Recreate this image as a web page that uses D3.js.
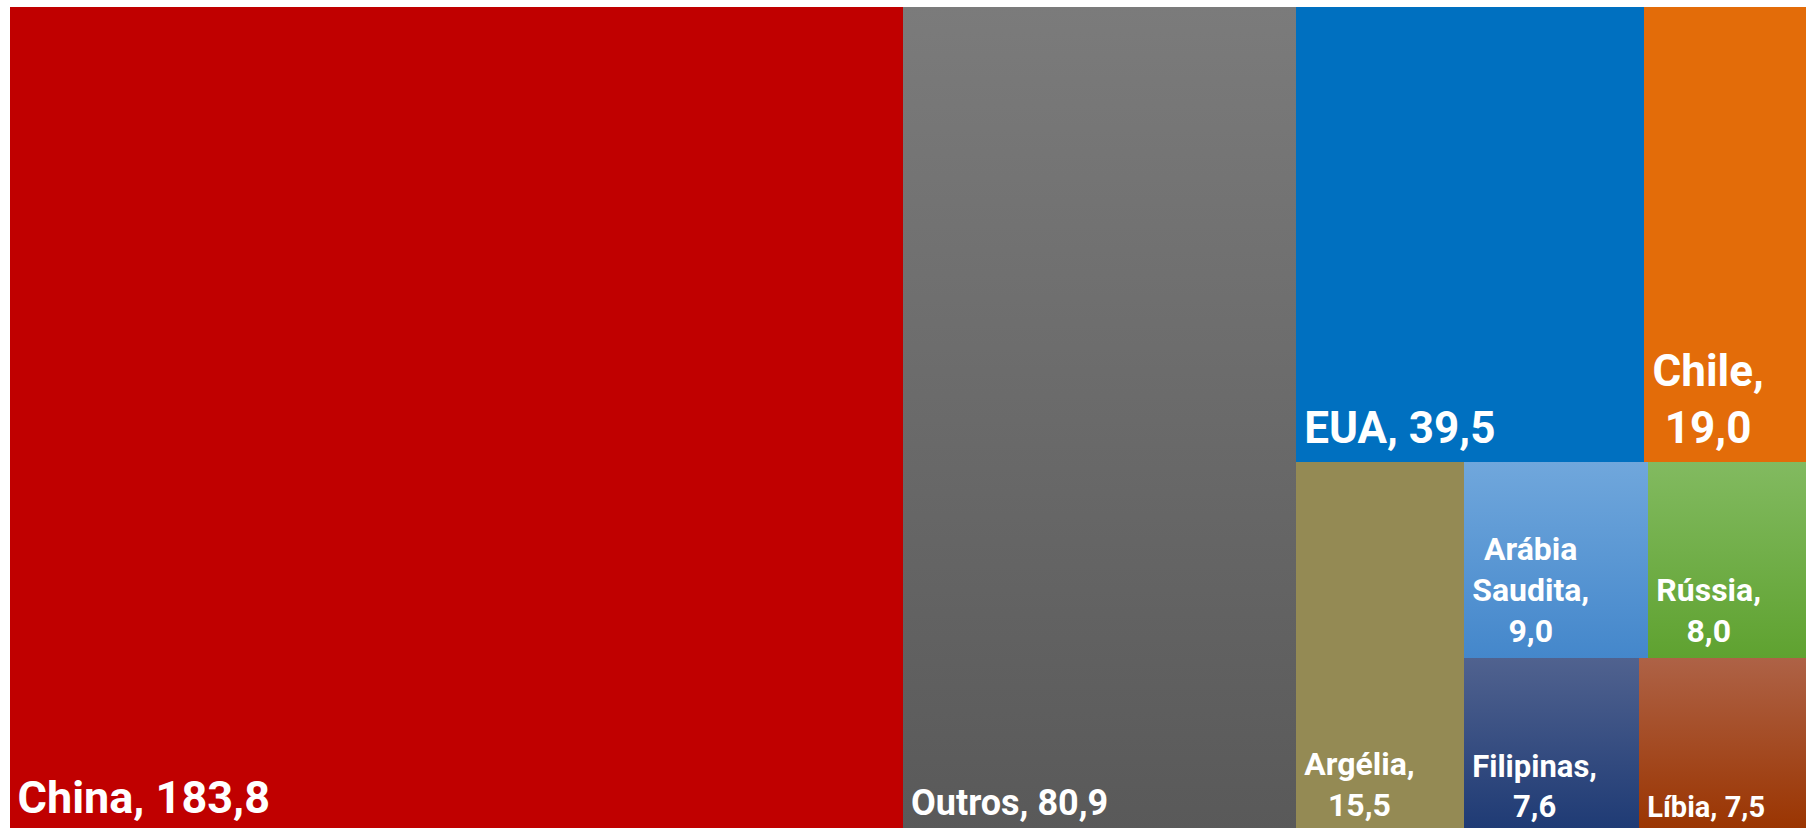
<!DOCTYPE html>
<html>
<head>
<meta charset="utf-8">
<script src="https://cdn.jsdelivr.net/npm/d3@7"></script>
<style>
  html, body { margin: 0; padding: 0; background: #fff; overflow: hidden; }
  svg { display: block; }
  .label { font-family: Roboto, "Open Sans", sans-serif; font-weight: 700; fill: #fff; }
</style>
</head>
<body>
<svg id="chart" width="1806" height="828"></svg>
<script>
// dados
const countries = ['China', 'Outros', 'EUA', 'Chile', 'Argélia', 'Arábia Saudita', 'Rússia', 'Filipinas', 'Líbia'];
const values = [183.8, 80.9, 39.5, 19.0, 15.5, 9.0, 8.0, 7.6, 7.5];

// cores (topo, base do gradiente)
const colors = {
  'China': ['#C00000', '#C00000'],
  'Outros': ['#7B7B7B', '#595959'],
  'EUA': ['#0070C0', '#0070C0'],
  'Chile': ['#E36C09', '#E36C09'],
  'Argélia': ['#948A54', '#948A54'],
  'Arábia Saudita': ['#70A7DC', '#4487CB'],
  'Rússia': ['#82BA60', '#5FA230'],
  'Filipinas': ['#50628F', '#1E3A74'],
  'Líbia': ['#AE6246', '#9A3400']
};
const fontSize = {
  'China': 45, 'Outros': 36, 'EUA': 44, 'Chile': 44, 'Argélia': 32,
  'Arábia Saudita': 32, 'Rússia': 32, 'Filipinas': 31, 'Líbia': 29
};

const svg = d3.select('#chart');
const marginLeft = 9.5, marginTop = 7;
const width = 1802.5, height = 825; // a área passa um pouco da borda direita/inferior

// quantas células entram em cada faixa do layout (igual ao Excel)
const strips = [1, 1, 2, 1, 2, 1, 1];

function stripTile(parent, x0, y0, x1, y1) {
  const nodes = parent.children;
  let value = parent.value, i = 0;
  strips.forEach((n) => {
    const row = { children: nodes.slice(i, i + n) };
    row.value = d3.sum(row.children, (d) => d.value);
    const dx = x1 - x0, dy = y1 - y0;
    if (dx < dy) {
      const yk = y0 + dy * row.value / value;
      d3.treemapDice(row, x0, y0, x1, yk);
      y0 = yk;
    } else {
      const xk = x0 + dx * row.value / value;
      d3.treemapSlice(row, x0, y0, xk, y1);
      x0 = xk;
    }
    value -= row.value;
    i += n;
  });
}

const root = d3.hierarchy({ children: countries.map((name, i) => ({ name, value: values[i] })) })
  .sum((d) => d.value || 0);

d3.treemap().tile(stripTile).size([width, height])(root);

const leaves = root.leaves();

// gradientes verticais
const defs = svg.append('defs');
leaves.forEach((d, i) => {
  const lg = defs.append('linearGradient')
    .attr('id', 'grad' + i)
    .attr('x1', 0).attr('y1', 0).attr('x2', 0).attr('y2', 1);
  lg.append('stop').attr('offset', '0%').attr('stop-color', colors[d.data.name][0]);
  lg.append('stop').attr('offset', '100%').attr('stop-color', colors[d.data.name][1]);
});

const g = svg.append('g').attr('transform', `translate(${marginLeft}, ${marginTop})`);

const cell = g.selectAll('.cell')
  .data(leaves)
  .join('g')
  .attr('class', 'cell');

cell.append('rect')
  .attr('x', (d) => d.x0)
  .attr('y', (d) => d.y0)
  .attr('width', (d) => d.x1 - d.x0)
  .attr('height', (d) => d.y1 - d.y0)
  .attr('fill', (d, i) => `url(#grad${i})`)
  .attr('shape-rendering', 'crispEdges');

const fmt = (v) => v.toFixed(1).replace('.', ',');

// rótulos: quebra de linha conforme a largura da célula
cell.each(function (d) {
  const fs = fontSize[d.data.name];
  const words = (d.data.name + ', ' + fmt(d.data.value)).split(' ');
  const maxW = (d.x1 - d.x0) - 24;
  const text = d3.select(this).append('text')
    .attr('class', 'label')
    .style('font-size', fs + 'px');

  const probe = text.append('tspan');
  const lines = [];
  let line = [];
  words.forEach((w) => {
    const test = line.concat(w).join(' ');
    probe.text(test);
    if (line.length && probe.node().getComputedTextLength() > maxW) {
      lines.push(line.join(' '));
      line = [w];
    } else {
      line.push(w);
    }
  });
  lines.push(line.join(' '));

  // largura do bloco
  let blockW = 0;
  lines.forEach((l) => {
    probe.text(l);
    blockW = Math.max(blockW, probe.node().getComputedTextLength());
  });
  probe.remove();

  const lh = fs * 1.28;
  const baseY = d.y1 - (0.3 * fs + 6);
  const cx = d.x0 + 8 + blockW / 2;
  text.selectAll('tspan')
    .data(lines)
    .join('tspan')
    .attr('x', cx)
    .attr('y', (l, k) => baseY - (lines.length - 1 - k) * lh)
    .attr('text-anchor', 'middle')
    .text((l) => l);
});
</script>
</body>
</html>
